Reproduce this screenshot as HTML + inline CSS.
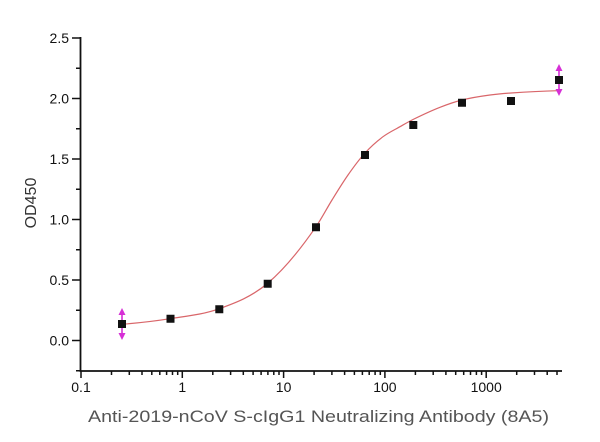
<!DOCTYPE html>
<html>
<head>
<meta charset="utf-8">
<style>
html,body{margin:0;padding:0;background:#fff;}
svg{display:block;}
text{font-family:"Liberation Sans",Arial,sans-serif;}
</style>
</head>
<body>
<svg width="600" height="442" viewBox="0 0 600 442" xmlns="http://www.w3.org/2000/svg">
<rect width="600" height="442" fill="#fff"/>
<path d="M80.5,37V371.5M79.6,371H562" stroke="#111" stroke-width="1.8" fill="none"/>
<path stroke="#111" stroke-width="1.5" fill="none" d="M72,38h8M76,68.25h4M72,98.5h8M76,128.75h4M72,159h8M76,189.25h4M72,219.5h8M76,249.75h4M72,280h8M76,310.25h4M72,340.5h8M76,370.75h4"/>
<path stroke="#111" stroke-width="1.5" fill="none" d="M81,371v7M182.3,371v7M283.6,371v7M384.9,371v7M486.2,371v7"/>
<path stroke="#111" stroke-width="1.5" fill="none" d="M111.5,371v4M129.3,371v4M142,371v4M151.8,371v4M159.8,371v4M166.6,371v4M172.5,371v4M177.7,371v4 M212.8,371v4M230.6,371v4M243.3,371v4M253.1,371v4M261.1,371v4M267.9,371v4M273.8,371v4M279,371v4 M314.1,371v4M331.9,371v4M344.6,371v4M354.4,371v4M362.4,371v4M369.2,371v4M375.1,371v4M380.3,371v4 M415.4,371v4M433.2,371v4M445.9,371v4M455.7,371v4M463.7,371v4M470.5,371v4M476.4,371v4M481.6,371v4 M516.7,371v4M534.5,371v4M547.2,371v4M557,371v4"/>
<g font-size="14" fill="#111" text-anchor="end">
<text x="69" y="43">2.5</text>
<text x="69" y="103.5">2.0</text>
<text x="69" y="164">1.5</text>
<text x="69" y="224.5">1.0</text>
<text x="69" y="285">0.5</text>
<text x="69" y="345.5">0.0</text>
</g>
<g font-size="14" fill="#111" text-anchor="middle">
<text x="81" y="392">0.1</text>
<text x="182.3" y="392">1</text>
<text x="283.6" y="392">10</text>
<text x="384.9" y="392">100</text>
<text x="486.2" y="392">1000</text>
</g>
<text transform="translate(36,203) rotate(-90)" font-size="16" fill="#333" text-anchor="middle">OD450</text>
<text x="88" y="422" font-size="16.5" fill="#555" textLength="461" lengthAdjust="spacingAndGlyphs">Anti-2019-nCoV S-cIgG1 Neutralizing Antibody (8A5)</text>
<path d="M122,324.3 C138,323.02 154,321.26 170,318.7 C186.33,316.09 202.67,314.68 219,308.8 C235.33,302.92 251.67,296.88 268,283 C284,269.4 300,249.9 316,226.7 C321.33,218.97 326.67,208.64 332,200 C337.33,191.36 342.67,182.62 348,175 C353.67,166.9 359.33,159.23 365,153 C371,146.4 377,141.14 383,136.7 C388.67,132.51 394.33,129.93 400,126.7 C404.33,124.23 408.67,121.62 413,119.5 C422,115.09 431,110.81 440,107.3 C447.33,104.44 454.67,101.83 462,100 C471.33,97.67 480.67,96.26 490,95 C497,94.06 504,93.46 511,93 C526.67,91.98 542.33,91.17 558,90.7" fill="none" stroke="#d9666a" stroke-width="1.2"/>
<path d="M122,312V336M559,68V92" stroke="#d62fd6" stroke-width="1.6" fill="none"/>
<path d="M122,308L118.5,315H125.5ZM122,340L118.5,333H125.5ZM559,64L555.5,71H562.5ZM559,96L555.5,89H562.5Z" fill="#d62fd6"/>
<path fill="#111" d="M118,320h8v8h-8ZM166.5,314.7h8v8h-8ZM215.3,305.3h8v8h-8ZM263.7,279.7h8v8h-8ZM312,223.3h8v8h-8ZM361,151h8v8h-8ZM409.3,121h8v8h-8ZM458,98.7h8v8h-8ZM507,97h8v8h-8ZM555,76h8v8h-8Z"/>
</svg>
</body>
</html>
